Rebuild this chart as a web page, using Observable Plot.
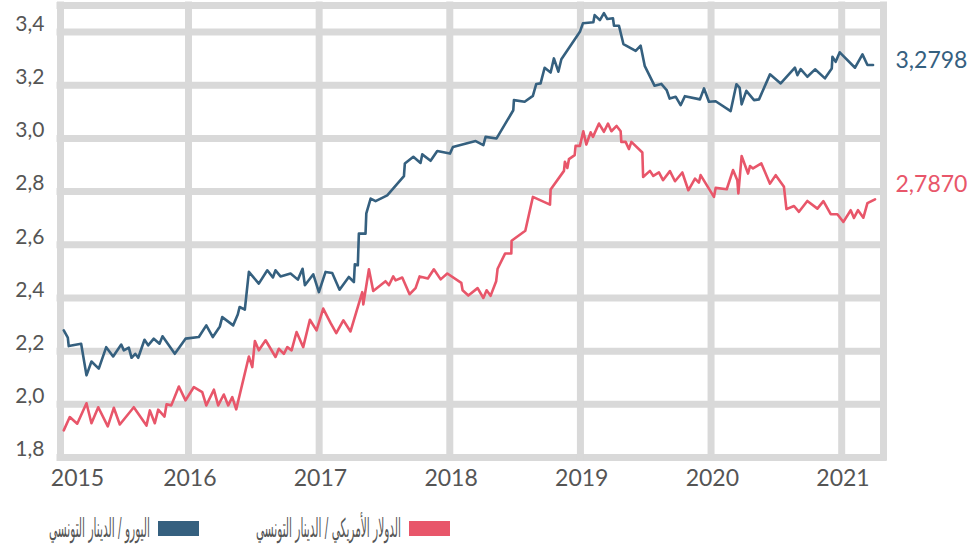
<!DOCTYPE html>
<html><head><meta charset="utf-8">
<script src="https://cdn.jsdelivr.net/npm/d3@7"></script>
<script src="https://cdn.jsdelivr.net/npm/@observablehq/plot@0.6"></script>
<style>
body{margin:0;background:#fff;font-family:Lato,"DejaVu Sans",sans-serif;}
#legend{position:relative;width:970px;height:53px;}
.item{position:absolute;top:20px;display:flex;direction:rtl;align-items:center;height:17px;}
.sw{width:41px;height:15px;margin-left:8px;flex:none;}
.lbl{display:inline-block;font-family:"DejaVu Sans",sans-serif;font-size:26px;line-height:17px;color:#555;white-space:nowrap;transform-origin:right center;}
</style></head>
<body><div id="chart"></div><div id="legend"></div>
<script>
// decimal-year time, rate values
const eurT = [2015.045,2015.076,2015.083,2015.178,2015.219,2015.257,2015.313,2015.370,2015.423,2015.485,
2015.505,2015.543,2015.564,2015.592,2015.615,2015.663,2015.691,2015.734,2015.778,2015.801,
2015.895,2015.977,2016.079,2016.136,2016.186,2016.240,2016.258,2016.342,2016.377,2016.391,
2016.431,2016.462,2016.538,2016.603,2016.646,2016.666,2016.704,2016.781,2016.837,2016.873,
2016.891,2016.955,2016.998,2017.049,2017.100,2017.156,2017.227,2017.266,2017.273,2017.296,
2017.304,2017.355,2017.361,2017.394,2017.432,2017.521,2017.649,2017.656,2017.721,2017.776,
2017.789,2017.853,2017.904,2018.001,2018.024,2018.198,2018.257,2018.274,2018.358,2018.486,
2018.491,2018.573,2018.636,2018.662,2018.695,2018.726,2018.772,2018.797,2018.831,2018.854,
2018.996,2019.019,2019.099,2019.109,2019.149,2019.180,2019.206,2019.249,2019.257,2019.295,
2019.329,2019.423,2019.461,2019.492,2019.568,2019.619,2019.660,2019.683,2019.729,2019.767,
2019.800,2019.915,2019.946,2019.984,2020.035,2020.150,2020.194,2020.219,2020.234,2020.270,
2020.329,2020.367,2020.451,2020.533,2020.642,2020.661,2020.686,2020.737,2020.796,2020.872,
2020.924,2020.929,2020.954,2020.985,2021.102,2021.159,2021.197,2021.240];
const eurV = [2.278,2.251,2.219,2.228,2.109,2.161,2.134,2.215,2.180,2.225,
2.203,2.213,2.175,2.190,2.175,2.243,2.222,2.247,2.228,2.256,
2.190,2.247,2.253,2.297,2.253,2.293,2.328,2.297,2.338,2.366,
2.356,2.498,2.454,2.504,2.477,2.504,2.481,2.492,2.469,2.510,
2.448,2.489,2.422,2.498,2.494,2.431,2.479,2.460,2.527,2.523,
2.642,2.642,2.718,2.774,2.764,2.786,2.858,2.906,2.931,2.908,
2.940,2.916,2.953,2.943,2.968,2.990,2.975,3.006,3.000,3.106,
3.144,3.138,3.160,3.205,3.207,3.266,3.248,3.301,3.251,3.298,
3.401,3.433,3.437,3.464,3.445,3.471,3.449,3.452,3.424,3.424,
3.355,3.329,3.349,3.273,3.198,3.205,3.182,3.150,3.157,3.125,
3.159,3.147,3.188,3.138,3.140,3.103,3.204,3.190,3.128,3.179,
3.144,3.147,3.241,3.207,3.266,3.238,3.261,3.232,3.260,3.226,
3.263,3.307,3.288,3.324,3.266,3.316,3.276,3.276];
const usdT = [2015.045,2015.091,2015.148,2015.219,2015.257,2015.309,2015.382,2015.428,2015.474,2015.581,
2015.678,2015.704,2015.742,2015.768,2015.816,2015.832,2015.868,2015.926,2015.977,2016.041,
2016.105,2016.136,2016.194,2016.227,2016.270,2016.304,2016.335,2016.365,2016.462,2016.488,
2016.508,2016.538,2016.590,2016.666,2016.691,2016.730,2016.756,2016.789,2016.827,2016.878,
2016.929,2016.980,2017.031,2017.087,2017.131,2017.185,2017.240,2017.330,2017.338,2017.381,
2017.414,2017.508,2017.534,2017.567,2017.585,2017.636,2017.692,2017.738,2017.769,2017.832,
2017.878,2017.930,2017.981,2018.088,2018.098,2018.142,2018.213,2018.257,2018.282,2018.312,
2018.355,2018.366,2018.423,2018.471,2018.473,2018.578,2018.636,2018.767,2018.772,2018.874,
2018.881,2018.900,2018.912,2018.956,2018.963,2018.996,2019.022,2019.045,2019.078,2019.096,
2019.142,2019.180,2019.211,2019.237,2019.277,2019.308,2019.313,2019.346,2019.371,2019.390,
2019.474,2019.480,2019.532,2019.558,2019.601,2019.632,2019.685,2019.724,2019.780,2019.826,
2019.877,2019.907,2019.920,2020.022,2020.035,2020.120,2020.168,2020.201,2020.209,2020.234,
2020.283,2020.298,2020.321,2020.385,2020.451,2020.495,2020.558,2020.577,2020.635,2020.673,
2020.737,2020.814,2020.860,2020.916,2020.967,2021.013,2021.069,2021.094,2021.125,2021.166,2021.197,2021.255];
const usdV = [1.902,1.952,1.927,2.004,1.929,1.989,1.917,1.987,1.924,1.989,
1.920,1.977,1.929,1.980,1.954,2.000,1.996,2.067,2.015,2.065,
2.046,1.996,2.055,1.996,2.037,1.996,2.027,1.981,2.180,2.140,
2.238,2.203,2.241,2.178,2.209,2.190,2.215,2.203,2.272,2.215,
2.318,2.278,2.360,2.306,2.268,2.316,2.274,2.422,2.376,2.508,
2.426,2.463,2.448,2.481,2.466,2.477,2.414,2.437,2.481,2.473,
2.508,2.470,2.492,2.457,2.429,2.409,2.437,2.400,2.429,2.408,
2.463,2.510,2.567,2.567,2.615,2.653,2.780,2.751,2.808,2.878,
2.912,2.889,2.922,2.937,2.972,2.972,3.027,2.977,3.023,3.006,
3.056,3.025,3.056,3.027,3.047,3.027,2.987,2.987,2.960,2.987,
2.947,2.855,2.878,2.859,2.872,2.843,2.877,2.839,2.872,2.805,
2.849,2.834,2.862,2.780,2.814,2.809,2.881,2.843,2.793,2.934,
2.868,2.896,2.887,2.906,2.830,2.862,2.818,2.734,2.746,2.724,
2.765,2.736,2.764,2.715,2.715,2.686,2.730,2.701,2.730,2.702,2.757,2.771];

const seriesNames = ["اليورو / الدينار التونسي", "الدولار الأمريكي / الدينار التونسي"];
const seriesColors = ["#35607f", "#e8566a"];
const endLabels = ["3,2798", "2,7870"];
const endValues = [3.2798, 2.787];

const xDomain = [2015.02, 2021.32];
const yDomain = [1.8, 3.5];
const yTicks = [1.8, 2.0, 2.2, 2.4, 2.6, 2.8, 3.0, 3.2, 3.4];
const xGridYears = [2016, 2017, 2018, 2019, 2020, 2021];
const xTickLabels = ["2015", "2016", "2017", "2018", "2019", "2020", "2021"];
const xTickPos = [2015.15, 2016.01, 2017.01, 2018.01, 2019.01, 2020.01, 2021.01];

const eur = eurT.map((t, i) => ({t, v: eurV[i]}));
const usd = usdT.map((t, i) => ({t, v: usdV[i]}));
const fmt = d => d.toFixed(1).replace(".", ",");
const grid = "#d9d9d9";

const chart = Plot.plot({
  width: 970, height: 500,
  marginLeft: 60, marginRight: 87, marginTop: 5, marginBottom: 43,
  x: {type: "linear", domain: xDomain, axis: null},
  y: {domain: yDomain, axis: null},
  style: {fontFamily: "Lato, sans-serif", fontSize: "20px", color: "#555", background: "#fff", overflow: "visible"},
  marks: [
    Plot.ruleY([...yTicks, yDomain[1]], {y: d => d, stroke: grid, strokeWidth: 7, strokeLinecap: "square"}),
    Plot.ruleX([xDomain[0], ...xGridYears, xDomain[1]], {x: d => d, stroke: grid, strokeWidth: 7, strokeLinecap: "square"}),
    Plot.line(eur, {x: "t", y: "v", stroke: seriesColors[0], strokeWidth: 2.6}),
    Plot.line(usd, {x: "t", y: "v", stroke: seriesColors[1], strokeWidth: 2.6}),
    Plot.text(yTicks, {y: d => d, text: fmt, frameAnchor: "left", textAnchor: "end", dx: -16, dy: -8, fill: "#555", fontSize: 21}),
    Plot.text(xTickLabels, {x: (d, i) => xTickPos[i], text: d => d, frameAnchor: "bottom", dy: 28, fill: "#555", fontSize: 23}),
    Plot.text([endLabels[0]], {y: () => endValues[0], text: d => d, frameAnchor: "right", textAnchor: "start", dx: 12, dy: -3, fill: seriesColors[0], fontSize: 23}),
    Plot.text([endLabels[1]], {y: () => endValues[1], text: d => d, frameAnchor: "right", textAnchor: "start", dx: 12, dy: -10, fill: seriesColors[1], fontSize: 23})
  ]
});
document.getElementById("chart").append(chart);

const legend = document.getElementById("legend");
const rights = [771, 520];
const textWidths = [101, 145];
seriesNames.forEach((name, i) => {
  const it = document.createElement("div");
  it.className = "item";
  it.style.right = rights[i] + "px";
  it.innerHTML = `<span class="sw" style="background:${seriesColors[i]}"></span><span class="lbl">${name}</span>`;
  legend.append(it);
  const lbl = it.querySelector(".lbl");
  const w = lbl.getBoundingClientRect().width;
  if (w > 0) lbl.style.transform = `scaleX(${Math.min(1, textWidths[i] / w)})`;
});
</script></body></html>
